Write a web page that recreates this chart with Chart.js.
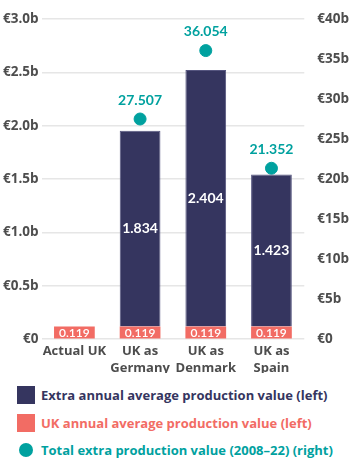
<!DOCTYPE html>
<html><head><meta charset="utf-8">
<script src="https://cdn.jsdelivr.net/npm/chart.js@4"></script>
<style>
html,body{margin:0;padding:0;background:#fff;}
body{width:360px;height:467px;overflow:hidden;font-family:"Open Sans",sans-serif;position:relative;}
#wrap{position:absolute;left:0;top:0;width:360px;height:373px;}
.li{position:absolute;left:0;display:flex;align-items:center;font-weight:700;font-size:13px;white-space:nowrap;}
.box{width:18px;height:18px;margin-left:17px;margin-right:6px;}
.dot{width:14px;height:14px;border-radius:50%;margin-left:19px;margin-right:8px;}
</style></head>
<body>
<div id="wrap"><canvas id="c" width="360" height="373"></canvas></div>
<div class="li" style="top:386px;color:#35355f"><span class="box" style="background:#35355f"></span>Extra annual average production value (left)</div>
<div class="li" style="top:414px;color:#f26c64"><span class="box" style="background:#f26c64"></span>UK annual average production value (left)</div>
<div class="li" style="top:441px;color:#00a19f"><span class="dot" style="background:#00a19f"></span>Total extra production value (2008–22) (right)</div>
<script>
const categories = [["Actual UK"], ["UK as", "Germany"], ["UK as", "Denmark"], ["UK as", "Spain"]];
const ukAnnual = [0.119, 0.119, 0.119, 0.119];
const extraAnnual = [null, 1.834, 2.404, 1.423];
const totalExtra = [null, 27.507, 36.054, 21.352];
const NAVY = '#35355f', PINK = '#f26c64', TEAL = '#00a19f', TICK = '#4d4d4d';
const FONT = '"Open Sans", sans-serif';
const LFONT = 'Lato, sans-serif';

const labelsPlugin = {
  id: 'valueLabels',
  afterDatasetsDraw(chart) {
    const ctx = chart.ctx;
    ctx.save();
    ctx.textAlign = 'center';
    ctx.textBaseline = 'middle';
    chart.data.datasets.forEach((ds, i) => {
      const meta = chart.getDatasetMeta(i);
      meta.data.forEach((el, j) => {
        const v = ds.data[j];
        if (v == null) return;
        const txt = v.toFixed(3);
        if (ds.type === 'line') {
          ctx.fillStyle = TEAL;
          ctx.font = '700 14px ' + LFONT;
          ctx.fillText(txt, el.x, el.y - 19);
        } else if (i === 0) {
          ctx.fillStyle = '#fff';
          ctx.font = '600 12px ' + LFONT;
          ctx.fillText(txt, el.x, (el.y + el.base) / 2 + 0.5);
        } else {
          ctx.fillStyle = '#fff';
          ctx.font = '700 14px ' + LFONT;
          ctx.fillText(txt, el.x, (el.y + el.base) / 2);
        }
      });
    });
    ctx.restore();
  }
};

new Chart(document.getElementById('c'), {
  data: {
    labels: categories,
    datasets: [
      { type: 'bar', label: 'UK annual average production value (left)', data: ukAnnual, backgroundColor: PINK, yAxisID: 'y', stack: 's', barPercentage: 0.62, categoryPercentage: 1 },
      { type: 'bar', label: 'Extra annual average production value (left)', data: extraAnnual, backgroundColor: NAVY, borderColor: '#55557f', borderWidth: 1, yAxisID: 'y', stack: 's', barPercentage: 0.62, categoryPercentage: 1 },
      { type: 'line', label: 'Total extra production value (2008–22) (right)', data: totalExtra, yAxisID: 'y1', showLine: false, pointRadius: 6, pointHoverRadius: 6, pointBackgroundColor: TEAL, pointBorderColor: TEAL, borderColor: TEAL }
    ]
  },
  options: {
    responsive: false,
    animation: false,
    events: [],
    layout: { padding: { top: 19, left: 0, right: 6, bottom: 0 } },
    plugins: { legend: { display: false }, tooltip: { enabled: false } },
    scales: {
      x: {
        stacked: true,
        grid: { display: false },
        border: { display: false },
        ticks: { autoSkip: false, color: TICK, font: { family: FONT, size: 13, weight: '700', lineHeight: 1.3 }, padding: -4, maxRotation: 0 }
      },
      y: {
        stacked: true, position: 'left', min: 0, max: 3,
        grid: { color: '#e6e6e6', lineWidth: 1.5, drawTicks: false },
        border: { display: false },
        ticks: { stepSize: 0.5, color: TICK, padding: 3, font: { family: FONT, size: 13.5, weight: '700' },
          callback: v => v === 0 ? '€0' : '€' + v.toFixed(1) + 'b' }
      },
      y1: {
        position: 'right', min: 0, max: 40,
        grid: { display: false },
        border: { display: false },
        ticks: { stepSize: 5, color: TICK, padding: 5, font: { family: FONT, size: 13.5, weight: '700' },
          callback: v => v === 0 ? '€0' : '€' + v + 'b' }
      }
    }
  },
  plugins: [labelsPlugin]
});
</script>
</body></html>
